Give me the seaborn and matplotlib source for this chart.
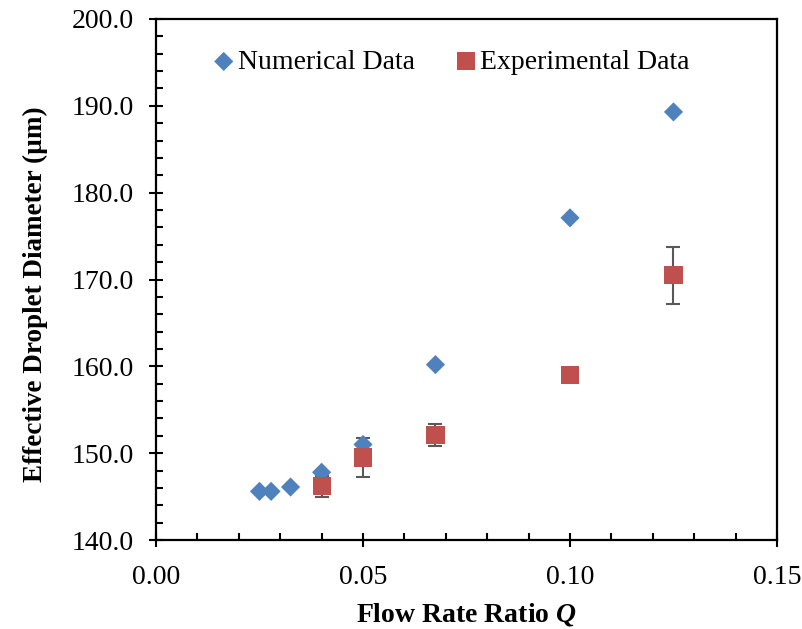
import matplotlib
matplotlib.use("Agg")
import matplotlib.pyplot as plt
from matplotlib.ticker import MultipleLocator, FormatStrFormatter
import seaborn as sns
import pandas as pd

# Data
num_q = [0.025, 0.0278, 0.0325, 0.040, 0.050, 0.0675, 0.100, 0.125]
num_d = [145.6, 145.6, 146.1, 147.8, 151.0, 160.2, 177.1, 189.3]

exp_q = [0.040, 0.050, 0.0675, 0.100, 0.125]
exp_d = [146.2, 149.5, 152.1, 159.0, 170.5]
exp_err = [1.2, 2.3, 1.3, 0.3, 3.3]

sns.set_theme(style="white")
plt.rcParams['font.family'] = ['Liberation Serif', 'DejaVu Serif']
plt.rcParams['mathtext.fontset'] = 'custom'
plt.rcParams['mathtext.it'] = 'Liberation Serif:italic:bold'
plt.rcParams['mathtext.rm'] = 'Liberation Serif'
plt.rcParams['text.color'] = 'black'
plt.rcParams['axes.labelcolor'] = 'black'
plt.rcParams['xtick.color'] = 'black'
plt.rcParams['ytick.color'] = 'black'

fig = plt.figure(figsize=(8.03, 6.29), dpi=100)
ax = fig.add_axes([156/803, 1 - 540/629, (777-156)/803, (540-19)/629])

num_df = pd.DataFrame({"Q": num_q, "D": num_d})
exp_df = pd.DataFrame({"Q": exp_q, "D": exp_d, "err": exp_err})

ax.errorbar(exp_df["Q"], exp_df["D"], yerr=exp_df["err"], fmt="none",
            ecolor="#595959", elinewidth=1.5, capsize=5, capthick=1.5, zorder=2)
sns.scatterplot(data=num_df, x="Q", y="D", marker="D", s=95, color="#4F81BD",
                edgecolor="none", ax=ax, zorder=3, label="Numerical Data")
sns.scatterplot(data=exp_df, x="Q", y="D", marker="s", s=170, color="#C0504D",
                edgecolor="none", ax=ax, zorder=4, label="Experimental Data")

ax.set_xlim(0, 0.15)
ax.set_ylim(140, 200)
ax.xaxis.set_major_locator(MultipleLocator(0.05))
ax.xaxis.set_minor_locator(MultipleLocator(0.01))
ax.yaxis.set_major_locator(MultipleLocator(10))
ax.yaxis.set_minor_locator(MultipleLocator(2))
ax.xaxis.set_major_formatter(FormatStrFormatter("%.2f"))
ax.yaxis.set_major_formatter(FormatStrFormatter("%.1f"))

ax.tick_params(axis="both", which="major", direction="inout", length=10, width=1.5,
               labelsize=20, colors="black", bottom=True, left=True,
               top=False, right=False)
ax.tick_params(axis="x", which="major", pad=13)
ax.tick_params(axis="y", which="major", pad=11)
ax.tick_params(axis="both", which="minor", direction="in", length=5, width=1.5,
               bottom=True, left=True, top=False, right=False)
for s in ax.spines.values():
    s.set_visible(True)
    s.set_color("black")
    s.set_linewidth(1.6)

ax.set_xlabel("Flow Rate Ratio $Q$", fontsize=20, fontweight="bold", labelpad=8)
ax.set_ylabel("Effective Droplet Diameter (µm)", fontsize=19.5, fontweight="bold")
ax.yaxis.set_label_coords(-0.174, 0.472)

leg = ax.legend(loc="center left", bbox_to_anchor=(214/803, 1 - 62/629),
                bbox_transform=fig.transFigure, ncol=2, frameon=False,
                fontsize=20, handletextpad=0.15, columnspacing=1.5, markerscale=1.0,
                handlelength=0.7, borderpad=0, borderaxespad=0)

fig.savefig("out.png", dpi=100)
